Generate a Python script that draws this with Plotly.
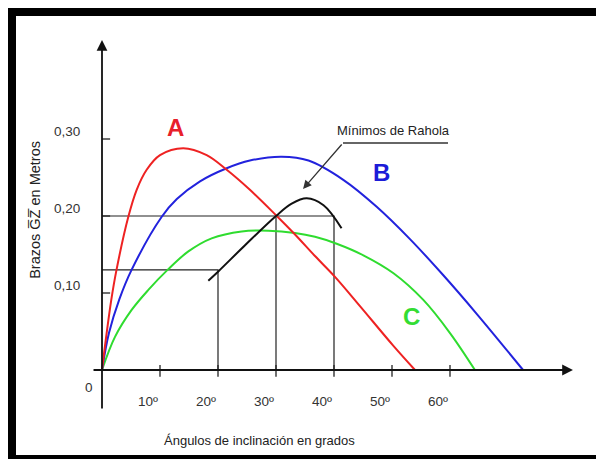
import plotly.graph_objects as go

# curve A (red)
a_deg = [0, 0.7, 1.6, 2.5, 4.54, 5.98, 7.7, 10.0, 14.0, 18.05, 21.5, 25.5, 30.0, 33.28, 36.72, 40.17, 44.48, 50.17, 53.97]
a_gz = [0, 0.042, 0.091, 0.130, 0.199, 0.234, 0.260, 0.279, 0.288, 0.279, 0.260, 0.234, 0.201, 0.176, 0.148, 0.121, 0.083, 0.032, 0]

# curve B (blue)
b_deg = [0, 1.2, 3.0, 5.1, 10.3, 12.9, 16.9, 21.5, 25.5, 30.98, 35.6, 41.6, 47.36, 53.1, 58.85, 64.6, 72.6]
b_gz = [0, 0.048, 0.092, 0.130, 0.199, 0.222, 0.245, 0.262, 0.272, 0.277, 0.272, 0.247, 0.212, 0.170, 0.123, 0.073, 0]

# curve C (green)
c_deg = [0, 2.24, 5.11, 7.99, 11.3, 14.89, 18.9, 24.08, 28.68, 33.28, 36.72, 40.46, 45.06, 50.2, 55.4, 60.0, 64.3]
c_gz = [0, 0.043, 0.078, 0.104, 0.130, 0.154, 0.171, 0.180, 0.181, 0.178, 0.173, 0.164, 0.149, 0.126, 0.091, 0.048, 0]

# Rahola minimum curve (black)
rahola_deg = [18.33, 20.05, 24.66, 30.0, 32.7, 35.3, 38.2, 41.3]
rahola_gz = [0.116, 0.128, 0.162, 0.200, 0.216, 0.223, 0.214, 0.184]

# reference lines
guide_deg = [0, 40, 40, None, 30, 30, None, 0, 20, 20]
guide_gz = [0.20, 0.20, 0, None, 0.20, 0, None, 0.13, 0.13, 0]

x_ticks = [10, 20, 30, 40, 50, 60]
x_labels = ["10º", "20º", "30º", "40º", "50º", "60º"]
y_ticks = [0.10, 0.20, 0.30]
y_labels = ["0,10", "0,20", "0,30"]

# leader from "Mínimos de Rahola" to the curve
leader_deg = [59.66, 41.55, 34.66]
leader_gz = [0.2948, 0.2948, 0.2351]

W, H = 596, 459
X0_PX, Y0_PX = 102, 370      # pixel position of origin
PX_PER_DEG, PX_PER_M = 5.8, 770

FONT = "Liberation Sans, Arial, sans-serif"


def curve(x, y, color, width=2):
    return go.Scatter(x=x, y=y, mode="lines", line=dict(color=color, width=width, shape="spline", smoothing=1.0),
                      hoverinfo="skip")


fig = go.Figure()

fig.add_trace(go.Scatter(x=guide_deg, y=guide_gz, mode="lines", line=dict(color="#222", width=1.2), hoverinfo="skip"))

# tick marks
tx, ty = [], []
for t in x_ticks:
    tx += [t, t, None]
    ty += [0.0065, -0.0087, None]
for t in y_ticks:
    tx += [0, 1.4, None]
    ty += [t, t, None]
fig.add_trace(go.Scatter(x=tx, y=ty, mode="lines", line=dict(color="#222", width=1.3), hoverinfo="skip"))

fig.add_trace(curve(c_deg, c_gz, "#2fdc2f"))
fig.add_trace(curve(b_deg, b_gz, "#2222dd"))
fig.add_trace(curve(a_deg, a_gz, "#ee2222"))
fig.add_trace(curve(rahola_deg, rahola_gz, "#111", width=2))

fig.add_trace(go.Scatter(x=leader_deg[:2], y=leader_gz[:2], mode="lines", line=dict(color="#333", width=1.3),
                         hoverinfo="skip"))

# axes with arrow heads
fig.add_annotation(x=81.2, y=0, ax=-1.72, ay=0, xref="x", yref="y", axref="x", ayref="y", text="",
                   showarrow=True, arrowhead=2, arrowsize=1.2, arrowwidth=1.8, arrowcolor="#111")
fig.add_annotation(x=0, y=0.4286, ax=0, ay=-0.052, xref="x", yref="y", axref="x", ayref="y", text="",
                   showarrow=True, arrowhead=2, arrowsize=1.2, arrowwidth=1.8, arrowcolor="#111")
fig.add_annotation(x=leader_deg[2], y=leader_gz[2], ax=leader_deg[1], ay=leader_gz[1], xref="x", yref="y",
                   axref="x", ayref="y", text="", showarrow=True, arrowhead=2, arrowsize=1.3, arrowwidth=1.3,
                   arrowcolor="#333")

for t, lab in zip(x_ticks, x_labels):
    fig.add_annotation(x=t, y=0, text=lab, showarrow=False, xshift=-12, yshift=-31,
                       font=dict(family=FONT, size=13.5, color="#333"))
for t, lab in zip(y_ticks, y_labels):
    fig.add_annotation(x=0, y=t, text=lab, showarrow=False, xshift=-35, yshift=8,
                       font=dict(family=FONT, size=13.5, color="#333"))
fig.add_annotation(x=0, y=0, text="0", showarrow=False, xshift=-13, yshift=-17,
                   font=dict(family=FONT, size=13.5, color="#333"))

fig.add_annotation(x=27.2, y=-0.091, text="Ángulos de inclinación en grados", showarrow=False,
                   font=dict(family=FONT, size=13, color="#222"))
fig.add_annotation(x=-11.55, y=0.208, text="Brazos G\u0305Z\u0305 en Metros", showarrow=False, textangle=-90,
                   font=dict(family=FONT, size=14.5, color="#222"))
fig.add_annotation(x=50.2, y=0.311, text="Mínimos de Rahola", showarrow=False,
                   font=dict(family=FONT, size=13, color="#222"))

fig.add_annotation(x=12.6, y=0.315, text="<b>A</b>", showarrow=False, font=dict(family=FONT, size=24, color="#e8202a"))
fig.add_annotation(x=48.2, y=0.256, text="<b>B</b>", showarrow=False, font=dict(family=FONT, size=24, color="#1c1cd8"))
fig.add_annotation(x=53.4, y=0.070, text="<b>C</b>", showarrow=False, font=dict(family=FONT, size=24, color="#33dd33"))

# black picture frame: top, left and bottom edges only
frame = dict(color="#000", width=8)
fig.add_shape(type="line", xref="paper", yref="paper", x0=8 / W, x1=1, y0=1 - 12 / H, y1=1 - 12 / H, line=frame)
fig.add_shape(type="line", xref="paper", yref="paper", x0=12 / W, x1=12 / W, y0=0, y1=1 - 8 / H, line=frame)
fig.add_shape(type="line", xref="paper", yref="paper", x0=8 / W, x1=1, y0=0, y1=0, line=frame)

fig.update_layout(
    width=W, height=H, autosize=False,
    margin=dict(l=0, r=0, t=0, b=0),
    paper_bgcolor="white", plot_bgcolor="white",
    showlegend=False,
    xaxis=dict(range=[-X0_PX / PX_PER_DEG, (W - X0_PX) / PX_PER_DEG], visible=False, fixedrange=True),
    yaxis=dict(range=[(Y0_PX - H) / PX_PER_M, Y0_PX / PX_PER_M], visible=False, fixedrange=True),
)

# drop the default 8px page margin so the figure fills the window
fig.write_html("out.html", config={"displayModeBar": False},
               post_script="document.body.style.margin='0';document.body.style.overflow='hidden';")
